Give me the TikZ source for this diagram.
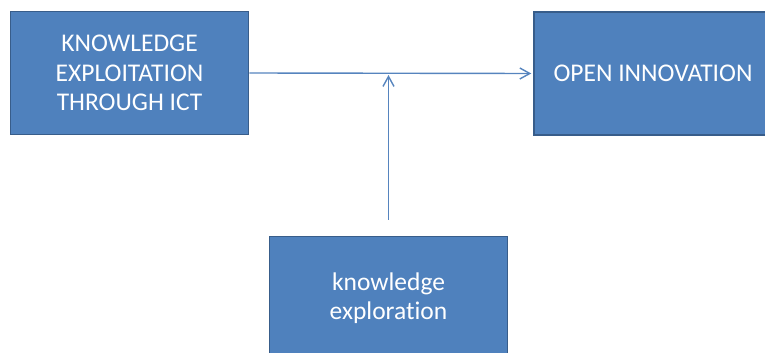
\documentclass[tikz,border=0pt]{standalone}
\usepackage{fontspec}
\setmainfont[Ligatures=NoCommon]{Carlito}
\usetikzlibrary{positioning,arrows.meta}
\definecolor{boxblue}{RGB}{79,129,189}
\definecolor{boxedge}{RGB}{56,93,138}
\definecolor{lineblue}{RGB}{86,132,190}
\tikzset{
  blk/.style={draw=boxedge, line width=1.5pt, fill=boxblue, text=white,
              align=center, minimum width=238pt, minimum height=123pt,
              inner sep=4pt, font=\fontsize{25.5}{29.5}\selectfont},
  flow/.style={-{Straight Barb[length=10pt,width=11pt]}, line width=1.4pt, color=lineblue},
}
\begin{document}
\begin{tikzpicture}[x=1pt, y=-1pt]
\useasboundingbox (0,0) rectangle (765,353);
\clip (0,0) rectangle (765,353);
\node[blk] (explt) at (129.5,73) {KNOWLEDGE\\EXPLOITATION\\THROUGH ICT};
\node[blk] (openinn) at (653,73.5) {OPEN INNOVATION};
\node[blk] (explr) at (388.5,298) {knowledge\\exploration};
\coordinate (join) at (explr.north |- explt.east);
\draw[flow, shorten >=2pt] (explt.east) -- (openinn.west);
\draw[flow, shorten >=2pt] ([yshift=16pt]explr.north) -- (join);
\end{tikzpicture}
\end{document}
